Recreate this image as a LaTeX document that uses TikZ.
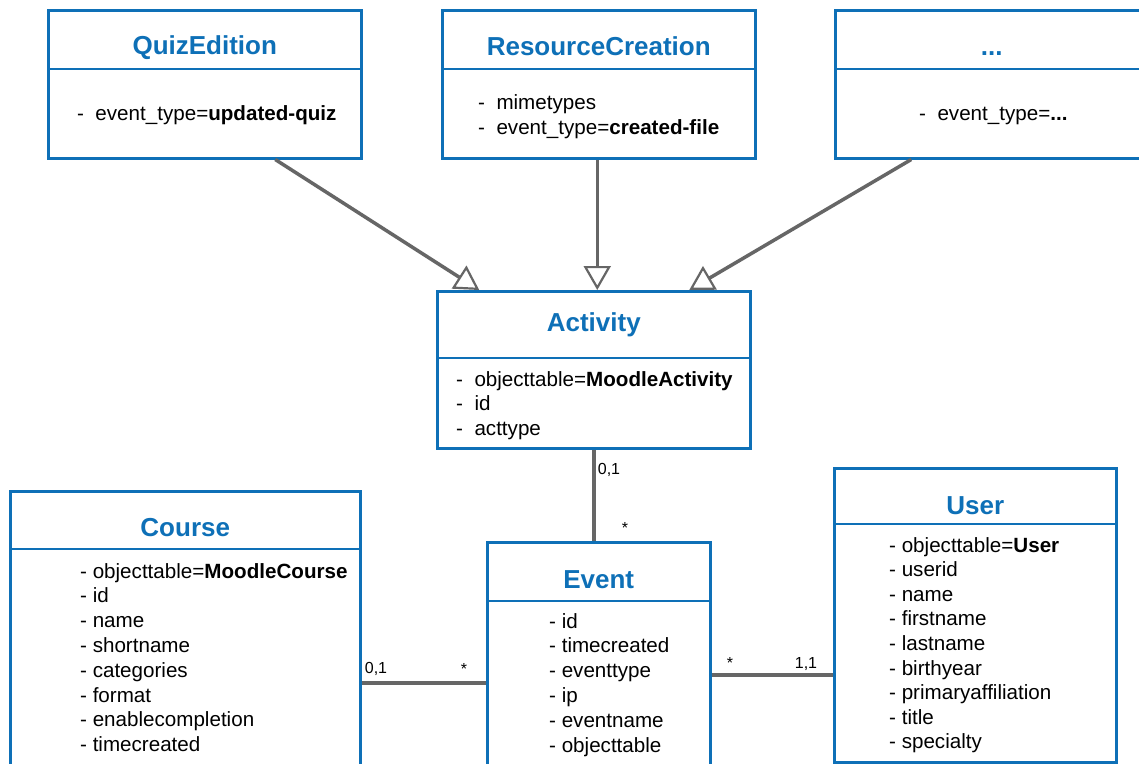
\documentclass[tikz,border=0pt]{standalone}
\usepackage{fontspec}
\setmainfont{Liberation Sans}
\usetikzlibrary{arrows.meta,calc}
\definecolor{umlblue}{RGB}{14,112,183}
\definecolor{linegray}{RGB}{102,102,102}
\begin{document}
\begin{tikzpicture}[x=1pt,y=-1pt,
  classbox/.style={draw=umlblue,line width=2.5pt,fill=white,anchor=north west,inner sep=0pt},
  divider/.style={draw=umlblue,line width=2.5pt},
  ctitle/.style={text=umlblue,font=\fontsize{26}{30}\selectfont\bfseries,anchor=base,inner sep=0pt},
  attrs/.style={font=\fontsize{20.6}{24.8}\selectfont,align=left,anchor=base west,inner sep=0pt},
  conn/.style={draw=linegray,line width=3.5pt},
  inherit/.style={conn,-{Triangle[open,length=24pt,width=27pt,line width=2.2pt]}},
  mult/.style={font=\fontsize{16}{18}\selectfont,anchor=base,inner sep=0pt}
]
\useasboundingbox (0,0) rectangle (1139,763);
\clip (0,0) rectangle (1139,763);
\fill[white] (0,0) rectangle (1139,763);

% --- boxes ---
\node[classbox,minimum width=313pt,minimum height=148pt] (quiz) at (47,9) {};
\node[classbox,minimum width=313pt,minimum height=148pt] (res) at (441,9) {};
\node[classbox,minimum width=313pt,minimum height=148pt] (dots) at (834,9) {};
\node[classbox,minimum width=313pt,minimum height=157pt] (act) at (436,290) {};
\node[classbox,minimum width=350pt,minimum height=320pt] (course) at (9,490) {};
\node[classbox,minimum width=223pt,minimum height=270pt] (ev) at (486,541) {};
\node[classbox,minimum width=282pt,minimum height=294pt] (user) at (833,467) {};

% --- dividers ---
\draw[divider] ([yshift=-60pt]quiz.north west) -- ([yshift=-60pt]quiz.north east);
\draw[divider] ([yshift=-60pt]res.north west) -- ([yshift=-60pt]res.north east);
\draw[divider] ([yshift=-60pt]dots.north west) -- ([yshift=-60pt]dots.north east);
\draw[divider] ([yshift=-68pt]act.north west) -- ([yshift=-68pt]act.north east);
\draw[divider] ([yshift=-59pt]course.north west) -- ([yshift=-59pt]course.north east);
\draw[divider] ([yshift=-60pt]ev.north west) -- ([yshift=-60pt]ev.north east);
\draw[divider] ([yshift=-57pt]user.north west) -- ([yshift=-57pt]user.north east);

% --- titles ---
\node[ctitle] (quizT) at ([yshift=-45pt]quiz.north) {QuizEdition};
\node[ctitle] (resT) at ([yshift=-46pt]res.north) {ResourceCreation};
\node[ctitle] (dotsT) at ([yshift=-46pt]dots.north) {...};
\node[ctitle] (actT) at ([yshift=-41pt]act.north) {Activity};
\node[ctitle] (courseT) at ([yshift=-46pt]course.north) {Course};
\node[ctitle] (evT) at ([yshift=-47pt]ev.north) {Event};
\node[ctitle] (userT) at ([yshift=-47pt]user.north) {User};

% --- attributes (anchored at the baseline of the last line) ---
\node[attrs] (quizA) at (77,120) {-\ \ event\_type=\textbf{updated-quiz}};
\node[attrs] (resA) at (478,134) {-\ \ mimetypes\\-\ \ event\_type=\textbf{created-file}};
\node[attrs] (dotsA) at (919,120) {-\ \ event\_type=\textbf{...}};
\node[attrs] (actA) at (456,435.6) {-\ \ objecttable=\textbf{MoodleActivity}\\-\ \ id\\-\ \ acttype};
\node[attrs] (courseA) at (80,751.6) {- objecttable=\textbf{MoodleCourse}\\- id\\- name\\- shortname\\- categories\\- format\\- enablecompletion\\- timecreated};
\node[attrs] (evA) at (549,752) {- id\\- timecreated\\- eventtype\\- ip\\- eventname\\- objecttable};
\node[attrs,font=\fontsize{20.6}{24.6}\selectfont] (userA) at (889,748.8) {- objecttable=\textbf{User}\\- userid\\- name\\- firstname\\- lastname\\- birthyear\\- primaryaffiliation\\- title\\- specialty};

% --- connectors ---
\draw[inherit] ([xshift=70.5pt]quiz.south) -- ([xshift=-114.5pt]act.north);
\draw[inherit] ([xshift=-1.5pt]res.south) -- ([xshift=3.5pt]act.north);
\draw[inherit] ([xshift=-80.5pt]dots.south) -- ([xshift=95.5pt]act.north);
\draw[conn] (act.south) -- (act.south |- ev.north);
\coordinate (ceY) at (0,683);
\coordinate (euY) at (0,675);
\draw[conn] (course.east |- ceY) -- (ev.west |- ceY);
\draw[conn] (ev.east |- euY) -- (user.west |- euY);

% --- multiplicities ---
\node[mult] (m1) at (609,474) {0,1};
\node[mult] (m2) at (625,533) {*};
\node[mult] (m3) at (376,673) {0,1};
\node[mult] (m4) at (464,674) {*};
\node[mult] (m5) at (730,668) {*};
\node[mult] (m6) at (806,668) {1,1};
\end{tikzpicture}
\end{document}
